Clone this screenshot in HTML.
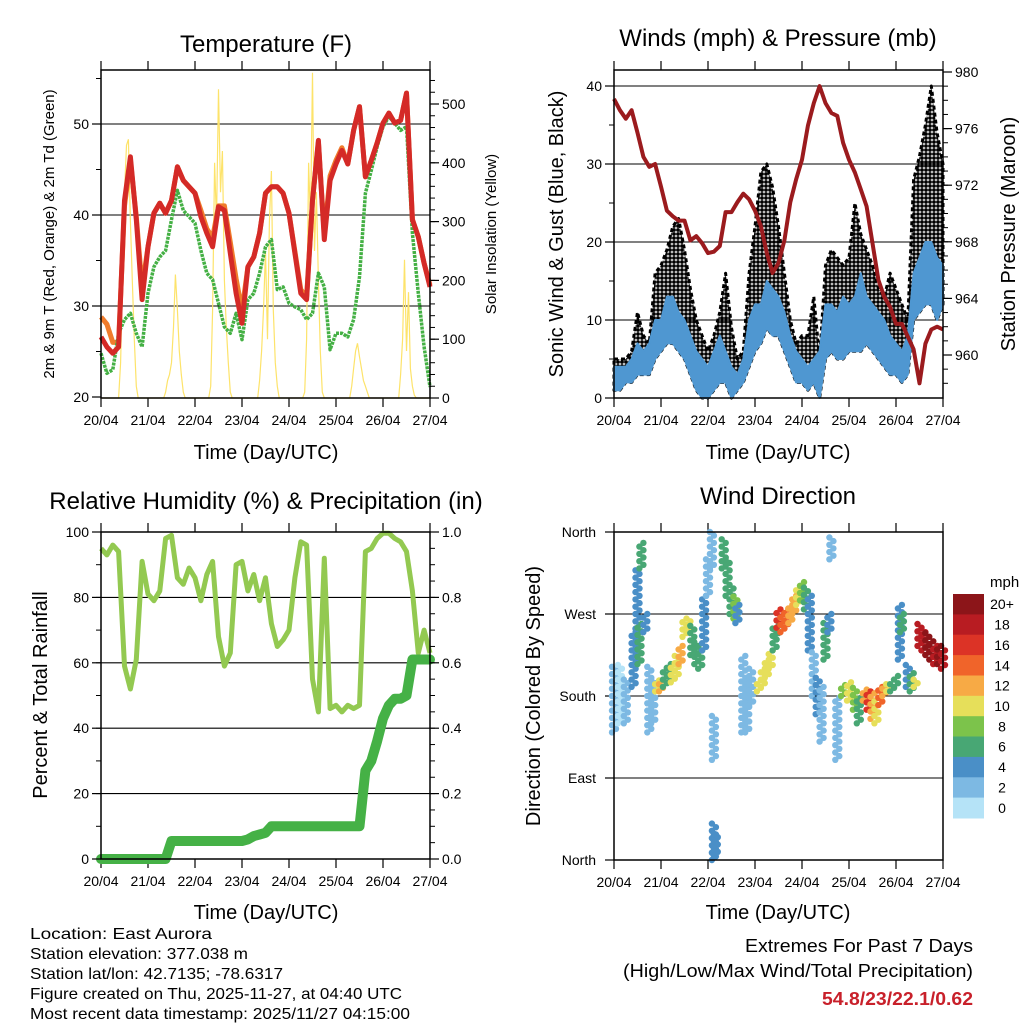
<!DOCTYPE html>
<html><head><meta charset="utf-8"><style>
html,body{margin:0;padding:0;background:#fff}
svg{display:block;font-family:"Liberation Sans",sans-serif}
</style></head><body>
<svg id="root" xmlns="http://www.w3.org/2000/svg" width="1024" height="1024" viewBox="0 0 1024 1024">
<defs>
<pattern id="dots" width="4" height="4" patternUnits="userSpaceOnUse"><circle cx="2" cy="2" r="1.9" fill="#000"/></pattern>
</defs>
<rect width="1024" height="1024" fill="#fff"/>
<g id="layer"></g>
<text x="266" y="52" font-size="24" text-anchor="middle">Temperature (F)</text>
<text x="778" y="46" font-size="24" text-anchor="middle">Winds (mph) &amp; Pressure (mb)</text>
<text x="266" y="509" font-size="24" text-anchor="middle">Relative Humidity (%) &amp; Precipitation (in)</text>
<text x="778" y="504" font-size="24" text-anchor="middle">Wind Direction</text>
<text x="266" y="459" font-size="20" text-anchor="middle">Time (Day/UTC)</text>
<text x="778" y="459" font-size="20" text-anchor="middle">Time (Day/UTC)</text>
<text x="266" y="919" font-size="20" text-anchor="middle">Time (Day/UTC)</text>
<text x="778" y="919" font-size="20" text-anchor="middle">Time (Day/UTC)</text>
<text transform="translate(54,234) rotate(-90)" font-size="15" text-anchor="middle">2m &amp; 9m T (Red, Orange) &amp; 2m Td (Green)</text>
<text transform="translate(496,234) rotate(-90)" font-size="15" text-anchor="middle">Solar Insolation (Yellow)</text>
<text transform="translate(563,234) rotate(-90)" font-size="20" text-anchor="middle">Sonic Wind &amp; Gust (Blue, Black)</text>
<text transform="translate(1015,234) rotate(-90)" font-size="20" text-anchor="middle">Station Pressure (Maroon)</text>
<text transform="translate(47,695) rotate(-90)" font-size="20" text-anchor="middle">Percent &amp; Total Rainfall</text>
<text transform="translate(540,696) rotate(-90)" font-size="20" text-anchor="middle">Direction (Colored By Speed)</text>
<text x="990" y="587" font-size="15" text-anchor="start">mph</text>
<g font-size="16">
<text x="30" y="939" textLength="182" lengthAdjust="spacingAndGlyphs">Location: East Aurora</text>
<text x="30" y="959" textLength="218" lengthAdjust="spacingAndGlyphs">Station elevation: 377.038 m</text>
<text x="30" y="979" textLength="253" lengthAdjust="spacingAndGlyphs">Station lat/lon: 42.7135; -78.6317</text>
<text x="30" y="999" textLength="372" lengthAdjust="spacingAndGlyphs">Figure created on Thu, 2025-11-27, at 04:40 UTC</text>
<text x="30" y="1019" textLength="380" lengthAdjust="spacingAndGlyphs">Most recent data timestamp: 2025/11/27 04:15:00</text>
</g>
<text x="973" y="952" font-size="18" text-anchor="end" textLength="228" lengthAdjust="spacingAndGlyphs">Extremes For Past 7 Days</text>
<text x="973" y="977" font-size="18" text-anchor="end" textLength="350" lengthAdjust="spacingAndGlyphs">(High/Low/Max Wind/Total Precipitation)</text>
<text x="973" y="1005" font-size="18" font-weight="bold" fill="#c8202a" text-anchor="end" textLength="151" lengthAdjust="spacingAndGlyphs">54.8/23/22.1/0.62</text>
</svg>
<script>
// ---------- data (3-hour steps, t = 0..168 h) ----------
const dayLabels = ["20/04","21/04","22/04","23/04","24/04","25/04","26/04","27/04"];
const tempRed = [26.6,25.5,24.8,25.5,41.6,46.4,39.5,30.7,36.5,40.2,41.3,40.2,41.6,45.3,43.8,43.1,42.4,39.8,38,36.5,40.9,40.5,35.8,31.4,28.1,34.3,35.4,38,42.4,43.1,43.1,42.4,40.2,35.8,31.4,30.7,41.6,48.2,37.3,43.8,45.6,47.1,45.6,49.3,51.9,44.2,46,47.9,50.1,51.2,50.1,50.4,53.4,39.5,37.6,34.7,32.1];
const tempOrange = [28.8,28,26,26,41,46,39.8,32,36.5,40.2,41.3,40.2,41.6,45.3,43.8,43.1,42.4,40.5,38.5,37.5,41,41,37,33,29.5,34.3,35.4,38,42.4,43.1,43.1,42.4,40.2,36,31.8,31,41.6,48,37.8,44.3,46,47.4,45.6,49.3,51.9,44.2,46,47.9,50.1,51.2,50.1,50.4,53.4,39.5,37.6,34.7,32.3];
const dewGreen = [24.8,22.6,23,27,28.5,29.2,27,25.5,31.4,34.3,35.4,36.1,39.5,42.7,40.5,39.8,39.1,36.1,33.6,32.9,30.3,27.7,27,29.2,26.3,30.7,31.4,33.6,36.5,37.3,31.8,32.1,30.3,29.9,29.6,28.5,29.2,33.6,32.1,25.2,27,27,26.6,28.5,33.2,42.4,44.9,47.5,49.7,50.8,50.1,49.3,49.7,38,31.4,25.5,21.1];
const solarDay0 = [0,0,0,0,0,0,0,0,0,0,60,200,350,430,440,300,200,100,20,0,0,0,0,0];
const solarDay1 = [0,0,0,0,0,0,0,0,0,10,30,40,60,120,210,150,80,40,10,0,0,0,0,0];
const solarDay2 = [0,0,0,0,0,0,0,0,20,150,400,300,525,350,420,200,120,60,10,0,0,0,0,0];
const solarDay3 = [0,0,0,0,0,0,0,0,0,30,80,150,250,100,300,386,150,60,20,0,0,0,0,0];
const solarDay4 = [0,0,0,0,0,0,0,0,10,100,400,300,553,250,350,200,80,10,0,0,0,0,0,0];
const solarDay5 = [0,0,0,0,0,0,0,0,20,50,80,93,70,50,30,20,10,0,0,0,0,0,0,0];
const solarDay6 = [0,0,0,0,0,0,0,0,0,40,100,235,80,180,50,20,5,0,0,0,0,0,0,0];
const pressure = [978.1,977.3,976.7,977.3,975.7,974,973.3,973.5,971.9,970.2,969.8,969.5,969.5,968.1,968.4,967.9,967.2,967.3,967.7,970.1,970.1,970.8,971.4,971,970.2,969.1,967.2,965.8,966.5,968.1,970.8,972.4,973.8,976.2,977.8,979,977.8,977.1,976.9,975,973.8,972.9,971.7,970.5,967.9,965.3,964.1,963.4,962.2,962.2,961.3,960.4,958,960.8,961.8,962,961.8];
const windLo = [1,1,2,2,3,3,3,5,6,7,7,6,5,3,1,0,0,1,2,2,0,1,2,4,6,7,9,8,8,6,4,2,2,1,2,0,5,6,5,5,6,6,6,7,6,5,4,3,3,2,3,10,11,12,12,10,12];
const windHi = [4,4,4,5,7,6,7,10,10,13,13,11,10,8,6,5,4,6,8,6,4,3,5,10,12,12,15,14,13,11,8,6,5,4,5,6,12,12,11,13,12,13,16,13,12,11,10,8,7,6,8,16,18,20,20,18,17];
const gustHi = [5,5,5,6,11,8,7,16,17,19,22,23,19,14,10,8,6,8,11,16,9,5,6,16,22,29,30,27,22,16,10,7,8,8,13,5,17,19,18,17,18,25,21,19,17,14,13,16,14,12,10,28,31,35,40,34,30];
const rhPct = [95,93,96,94,59,52,61,91,81,79,82,98,99,86,84,89,86,79,87,91,68,59,63,90,91,82,87,79,86,72,65,67,70,86,97,96,55,45,92,46,47,45,47,46,47,94,95,98,99.6,99.6,98,97,94,82,63,70,63];
const precipIn = [0,0,0,0,0,0,0,0,0,0,0,0,0.055,0.055,0.055,0.055,0.055,0.055,0.055,0.055,0.055,0.055,0.055,0.055,0.055,0.06,0.07,0.075,0.08,0.1,0.1,0.1,0.1,0.1,0.1,0.1,0.1,0.1,0.1,0.1,0.1,0.1,0.1,0.1,0.1,0.27,0.3,0.36,0.43,0.47,0.49,0.49,0.5,0.61,0.61,0.61,0.61];
const dirTime  = [0,3,6,10,12,13,14,16,18,20,22,24,26,28,30,32,34,36,38,40,42,44,46,48,50,51,51,52,56,58,60,62,63,66,68,70,74,76,78,80,82,83,84,86,88,90,92,94,96,98,100,102,104,106,108,110,111,114,117,120,123,125,128,130,132,134,136,138,140,142,144,146,147,150,152,154,156,158,160,162,164,166,168];
const dirLo    = [140,150,150,190,230,215,320,250,140,150,185,185,190,195,195,200,215,245,250,225,215,210,230,290,320,110,0,5,320,290,270,265,260,140,140,170,185,190,200,210,230,245,255,250,255,260,270,280,285,275,230,180,160,130,220,250,330,110,180,175,165,150,175,165,155,150,170,180,185,185,190,220,250,190,185,190,235,230,225,220,215,215,210];
const dirHi    = [215,215,200,250,320,260,350,270,215,200,200,200,210,215,215,225,235,265,265,260,240,235,290,330,360,160,40,30,355,330,300,290,280,225,200,210,200,210,220,230,255,260,275,270,275,280,290,300,305,300,290,230,200,190,260,270,355,180,195,195,190,180,190,185,185,175,190,195,195,195,205,280,270,215,205,200,260,255,250,240,235,235,230];
const dirSpeed = [2,1,2,4,4,6,6,4,3,3,10,12,7,7,10,11,12,11,10,7,7,6,4,3,2,2,5,4,7,6,7,8,4,2,2,3,10,11,11,10,7,7,16,15,14,13,12,11,8,7,4,3,4,3,6,5,3,2,9,10,8,7,12,17,13,10,15,12,11,7,6,4,7,4,6,10,18,19,20,20,19,20,18];
const speedBins = ["20+","18","16","14","12","10","8","6","4","2","0"];
const speedColors = ["#8c1519","#b81c22","#dc3326","#f0642a","#f7aa45","#e6df5a","#7cc34b","#48a774","#4a8fc7","#7db9e3","#b5e3f7"];

// ---------- helpers ----------
const NS = "http://www.w3.org/2000/svg";
const layer = document.getElementById("layer");
function mk(tag, attrs, parent){ const e=document.createElementNS(NS,tag); for(const k in attrs) e.setAttribute(k,attrs[k]); (parent||layer).appendChild(e); return e; }
const stepT = 3;
function xScale(box){ return t => box.x0 + (box.x1-box.x0)*t/168; }
function lin(v0,p0,v1,p1){ return v => p0 + (v-v0)*(p1-p0)/(v1-v0); }
function pathFrom(vals, xs, ys, times){ let d=""; vals.forEach((v,i)=>{ const t = times?times[i]:i*stepT; d += (i?"L":"M")+xs(t).toFixed(1)+","+ys(v).toFixed(1); }); return d; }

const B1={x0:101,x1:430,y0:70,y1:398}, B2={x0:614,x1:943,y0:70,y1:398}, B3={x0:101,x1:430,y0:532,y1:859}, B4={x0:614,x1:943,y0:532,y1:860};

function frame(box, name){
  const g = mk("g",{});
  
  
  const xs = xScale(box);
  dayLabels.forEach((lab,i)=>{
    const x = xs(i*24);
    mk("line",{x1:x,x2:x,y1:box.y0-9,y2:box.y0,stroke:"#000","stroke-width":1.2},g);
    mk("line",{x1:x,x2:x,y1:box.y1,y2:box.y1+9,stroke:"#000","stroke-width":1.2},g);
    const tx = mk("text",{x:x,y:box.y1+27,"font-size":14,"text-anchor":"middle"},g);
    tx.textContent = lab;
    
    
  });
  return g;
}
function yTicks(box, side, scale, majors, minors, fmt, labOff, name){
  const g = mk("g",{});
  
  
  const x = side==="L"?box.x0:box.x1, dir = side==="L"?-1:1;
  minors.forEach(v=>{ const y=scale(v); if(y<box.y0-0.5||y>box.y1+0.5) return; mk("line",{x1:x,x2:x+dir*5,y1:y,y2:y,stroke:"#000","stroke-width":1},g); });
  majors.forEach(v=>{ const y=scale(v); mk("line",{x1:x,x2:x+dir*9,y1:y,y2:y,stroke:"#000","stroke-width":1.2},g);
    const t = mk("text",{x:x+dir*labOff,y:y+5,"font-size":14,"text-anchor":side==="L"?"end":"start"},g); t.textContent = fmt(v);
    
     });
}
function grid(box, scale, vals){ vals.forEach(v=>{ const y=scale(v); mk("line",{x1:box.x0,x2:box.x1,y1:y,y2:y,stroke:"#000","stroke-width":1.1}); }); }
function border(box){ mk("rect",{x:box.x0,y:box.y0,width:box.x1-box.x0,height:box.y1-box.y0,fill:"none",stroke:"#000","stroke-width":1.5}); }
function range(a,b,s){ const r=[]; for(let v=a; v<=b+1e-9; v+=s) r.push(+v.toFixed(3)); return r; }

// ---------- Panel 1: temperature ----------
(function(){
  const xs = xScale(B1), yL = lin(20,397,50,124), yR = lin(0,398,500,104);
  frame(B1,'temperature');
  grid(B1,yL,[30,40,50]);
  const solar = solarDay0.concat(solarDay1,solarDay2,solarDay3,solarDay4,solarDay5,solarDay6,[0]);
  const hrs = solar.map((v,i)=>i);
  const s = mk("path",{d:pathFrom(solar,xs,yR,hrs),fill:"none",stroke:"#fde36a","stroke-width":1.2});
  
  
  const o = mk("path",{d:pathFrom(tempOrange,xs,yL),fill:"none",stroke:"#f07c2c","stroke-width":5,"stroke-linejoin":"round"});
  
  
  const g = mk("path",{d:pathFrom(dewGreen,xs,yL),fill:"none",stroke:"#44b044","stroke-width":3.5,"stroke-dasharray":"3 1","stroke-linejoin":"round"});
  
  
  const r = mk("path",{d:pathFrom(tempRed,xs,yL),fill:"none",stroke:"#d42a27","stroke-width":5,"stroke-linejoin":"round"});
  
  
  yTicks(B1,"L",yL,[20,30,40,50],range(25,55,5),v=>v,12,'temp-left-axis');
  yTicks(B1,"R",yR,range(0,500,100),range(0,540,20),v=>v,12,'solar-right-axis');
  border(B1);
})();

// ---------- Panel 2: winds ----------
(function(){
  const xs = xScale(B2), yL = lin(0,398,40,86), yR = lin(960,355,980,72);
  frame(B2,'winds');
  grid(B2,yL,[10,20,30,40]);
  let top="", bot="";
  gustHi.forEach((v,i)=>{ top += (i?"L":"M")+xs(i*stepT).toFixed(1)+","+yL(v).toFixed(1); });
  for(let i=windLo.length-1;i>=0;i--) bot += "L"+xs(i*stepT).toFixed(1)+","+yL(windLo[i]).toFixed(1);
  const ga = mk("path",{d:top+bot+"Z",fill:"url(#dots)",stroke:"#000","stroke-width":3,"stroke-dasharray":"4 3","stroke-linejoin":"round"});
  
  
  let t2="", b2="";
  windHi.forEach((v,i)=>{ t2 += (i?"L":"M")+xs(i*stepT).toFixed(1)+","+yL(v).toFixed(1); });
  for(let i=windLo.length-1;i>=0;i--) b2 += "L"+xs(i*stepT).toFixed(1)+","+yL(windLo[i]).toFixed(1);
  const wa = mk("path",{d:t2+b2+"Z",fill:"#4f97d1",stroke:"#4f97d1","stroke-width":2,"stroke-linejoin":"round"});
  
  
  const p = mk("path",{d:pathFrom(pressure,xs,yR),fill:"none",stroke:"#9b1b1e","stroke-width":4,"stroke-linejoin":"round"});
  
  
  yTicks(B2,"L",yL,[0,10,20,30,40],[5,15,25,35],v=>v,12,'wind-left-axis');
  yTicks(B2,"R",yR,range(960,980,4),range(958,980,1),v=>v,12,'pressure-right-axis');
  border(B2);
})();

// ---------- Panel 3: RH & precip ----------
(function(){
  const xs = xScale(B3), yL = lin(0,859,100,532), yR = lin(0,859,1,532);
  frame(B3,'humidity');
  grid(B3,yL,[20,40,60,80]);
  const rh = mk("path",{d:pathFrom(rhPct,xs,yL),fill:"none",stroke:"#93c951","stroke-width":5,"stroke-linejoin":"round"});
  
  
  const pr = mk("path",{d:pathFrom(precipIn,xs,yR),fill:"none",stroke:"#45b146","stroke-width":10,"stroke-linejoin":"round","stroke-linecap":"round"});
  
  
  yTicks(B3,"L",yL,range(0,100,20),range(0,100,10),v=>v,12,'rh-left-axis');
  yTicks(B3,"R",yR,range(0,1,0.2),range(0,1,0.05),v=>v.toFixed(1),12,'precip-right-axis');
  border(B3);
})();

// ---------- Panel 4: wind direction ----------
(function(){
  const xs = xScale(B4), yD = lin(0,860,360,532);
  frame(B4,'wind-direction');
  grid(B4,yD,[90,180,270,360]);
  const dirNames = ["North","East","South","West","North"];
  [0,90,180,270,360].forEach((d,i)=>{
    const y=yD(d);
    mk("line",{x1:B4.x0-9,x2:B4.x0,y1:y,y2:y,stroke:"#000","stroke-width":1.2});
    const t=mk("text",{x:B4.x0-18,y:y+5,"font-size":14,"text-anchor":"end"}); t.textContent=dirNames[i];
    
    
  });
  const pts = mk("g",{});
  
  
  dirTime.forEach((t,i)=>{
    const ci = Math.max(0, Math.min(10, 10 - Math.floor(dirSpeed[i]/2)));
    let k=0;
    for(let d=dirLo[i]; d<=dirHi[i]; d+=4){
      const c = mk("circle",{cx:(xs(t)+(k%2?2:-2)).toFixed(1),cy:yD(d).toFixed(1),r:3.2,fill:speedColors[ci]},pts);
      
      
      k++;
    }
  });
  border(B4);
  // colorbar
  const cb = mk("g",{});
  
  
  const h = (818-594)/speedBins.length;
  speedBins.forEach((lab,i)=>{
    const r = mk("rect",{x:953,y:(594+i*h).toFixed(1),width:31,height:(h+0.5).toFixed(1),fill:speedColors[i]},cb);
    
    
    const t = mk("text",{x:1002,y:(594+i*h+h/2+5).toFixed(1),"font-size":14,"text-anchor":"middle"},cb); t.textContent=lab;
    
    
  });
})();
</script>
</body></html>
